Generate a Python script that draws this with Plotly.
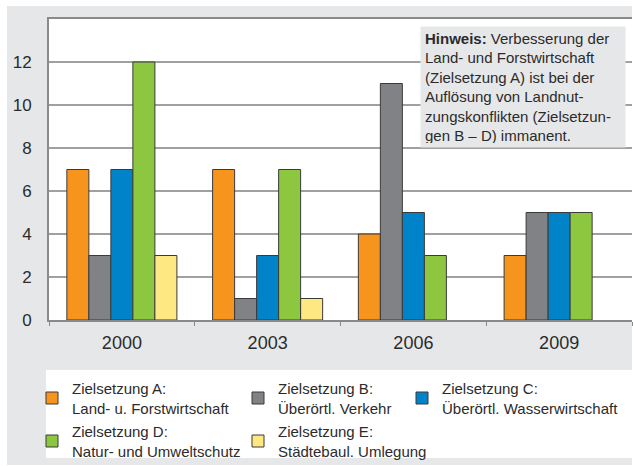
import plotly.graph_objects as go

years = ["2000", "2003", "2006", "2009"]
names = [
    "Zielsetzung A:<br>Land- u. Forstwirtschaft",
    "Zielsetzung B:<br>Überörtl. Verkehr",
    "Zielsetzung C:<br>Überörtl. Wasserwirtschaft",
    "Zielsetzung D:<br>Natur- und Umweltschutz",
    "Zielsetzung E:<br>Städtebaul. Umlegung",
]
vals_a = [7, 7, 4, 3]
vals_b = [3, 1, 11, 5]
vals_c = [7, 3, 5, 5]
vals_d = [12, 7, 3, 5]
vals_e = [3, 1, None, None]
colors = ["#f7941d", "#808285", "#0083c9", "#8dc63f", "#fde882"]
legend_ids = ["legend", "legend2", "legend3", "legend", "legend2"]
y_ticks = [0, 2, 4, 6, 8, 10, 12]

FONT = "Liberation Sans, Arial, sans-serif"
TXT = "#2b2b2b"

fig = go.Figure()
for i, (nm, v) in enumerate(zip(names, [vals_a, vals_b, vals_c, vals_d, vals_e])):
    fig.add_trace(go.Bar(
        x=years, y=v, name=nm,
        marker=dict(color=colors[i], line=dict(color="#3a3a3a", width=1)),
        legend=legend_ids[i], legendgroup=str(i),
    ))

W, H = 634, 466
ml, mr, mt, mb = 49, 2, 19, 146
pw, ph = W - ml - mr, H - mt - mb

def px(x):
    return (x - ml) / pw

def py(y):
    return (H - mb - y) / ph

leg_common = dict(
    orientation="v", yanchor="top", xanchor="left",
    font=dict(family=FONT, size=15, color=TXT),
    bgcolor="rgba(0,0,0,0)", tracegroupgap=1, itemwidth=30,
)

fig.update_layout(
    width=W, height=H,
    margin=dict(l=ml, r=mr, t=mt, b=mb, autoexpand=False),
    paper_bgcolor="white",
    plot_bgcolor="white",
    barmode="group",
    bargap=0.245,
    bargroupgap=0,
    font=dict(family=FONT, color=TXT),
    legend=dict(x=px(32), y=py(372), **leg_common),
    legend2=dict(x=px(238), y=py(372), **leg_common),
    legend3=dict(x=px(402), y=py(372), **leg_common),
    xaxis=dict(
        showline=True, linecolor="#8a8a8a", linewidth=2, mirror=True,
        ticks="outside", tickson="boundaries", ticklen=4, tickcolor="#8a8a8a",
        tickfont=dict(size=18, color=TXT), showgrid=False, ticklabelstandoff=5,
    ),
    yaxis=dict(
        range=[0, 14], tickvals=y_ticks, showline=True, linecolor="#8a8a8a", linewidth=2,
        showgrid=True, gridcolor="#a0a0a0", gridwidth=1.5, zeroline=False,
        tickfont=dict(size=17, color=TXT), ticks="", ticklabelstandoff=12,
    ),
    shapes=[
        dict(type="rect", xref="paper", yref="paper", x0=px(7), x1=px(632), y0=py(465), y1=py(6),
             fillcolor="#e6e7e8", line=dict(width=0), layer="below"),
        dict(type="rect", xref="paper", yref="paper", x0=0, x1=1, y0=0, y1=1,
             fillcolor="white", line=dict(width=0), layer="below"),
        dict(type="rect", xref="paper", yref="paper", x0=px(46), x1=px(632), y0=py(458), y1=py(370),
             fillcolor="white", line=dict(width=0), layer="below"),
    ],
    annotations=[
        dict(
            xref="paper", yref="paper", x=px(420), y=py(26), xanchor="left", yanchor="top",
            text=("<b>Hinweis:</b> Verbesserung der<br>Land- und Forstwirtschaft<br>"
                  "(Zielsetzung A) ist bei der<br>Auflösung von Landnut-<br>"
                  "zungskonflikten (Zielsetzun-<br>gen B – D) immanent."),
            align="left", valign="middle", width=196, height=112,
            showarrow=False, bgcolor="#e6e7e8", borderpad=4,
            font=dict(family=FONT, size=15, color=TXT),
        )
    ],
)

fig.write_html(
    "out.html",
    config={"displayModeBar": False},
    post_script="document.body.style.margin='0';document.body.style.padding='0';",
)
